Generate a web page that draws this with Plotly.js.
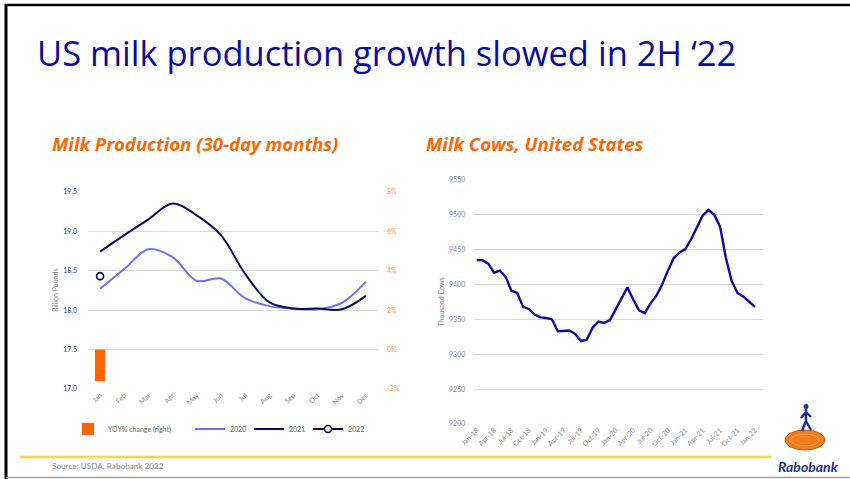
<!DOCTYPE html>
<html>
<head>
<meta charset="utf-8">
<script src="https://cdn.plot.ly/plotly-3.0.1.min.js"></script>
<style>
  html, body { margin: 0; padding: 0; background: #ffffff; }
  #chart { width: 850px; height: 479px; }
</style>
</head>
<body>
<div id="chart"></div>
<script>
// ---- Left chart: Milk Production (30-day months), billion pounds ----
const months = ["Jan","Feb","Mar","Apr","May","Jun","Jul","Aug","Sep","Oct","Nov","Dec"];
const milk2020 = [18.27, 18.52, 18.77, 18.67, 18.37, 18.40, 18.15, 18.05, 18.02, 18.01, 18.09, 18.36];
const milk2021 = [18.74, 18.95, 19.15, 19.35, 19.20, 18.95, 18.46, 18.10, 18.02, 18.02, 18.01, 18.18];
const milk2022Months = ["Jan"];
const milk2022 = [18.43];
const yoyMonths = ["Jan"];
const yoyChange = [-1.6];   // percent, right axis
const leftTicks = [17.0, 17.5, 18.0, 18.5, 19.0, 19.5];
const leftTickText = ["17.0", "17.5", "18.0", "18.5", "19.0", "19.5"];
const rightTicks = [-2, 0, 2, 4, 6, 8];
const rightTickText = ["-2%", "0%", "2%", "4%", "6%", "8%"];

// ---- Right chart: Milk Cows, United States, thousand head ----
const cowMonths = [
  "Jan-18","Feb-18","Mar-18","Apr-18","May-18","Jun-18","Jul-18","Aug-18","Sep-18","Oct-18","Nov-18","Dec-18",
  "Jan-19","Feb-19","Mar-19","Apr-19","May-19","Jun-19","Jul-19","Aug-19","Sep-19","Oct-19","Nov-19","Dec-19",
  "Jan-20","Feb-20","Mar-20","Apr-20","May-20","Jun-20","Jul-20","Aug-20","Sep-20","Oct-20","Nov-20","Dec-20",
  "Jan-21","Feb-21","Mar-21","Apr-21","May-21","Jun-21","Jul-21","Aug-21","Sep-21","Oct-21","Nov-21","Dec-21",
  "Jan-22"
];
const cows = [
  9435, 9435, 9430, 9417, 9420, 9411, 9391, 9388, 9368, 9365, 9357, 9353,
  9352, 9350, 9333, 9333, 9334, 9329, 9319, 9321, 9338, 9347, 9345, 9349,
  9365, 9380, 9396, 9379, 9363, 9359, 9373, 9384, 9400, 9420, 9438, 9446,
  9451, 9465, 9482, 9499, 9507, 9500, 9483, 9438, 9405, 9388, 9383, 9375,
  9368
];
const cowTickVals = ["Jan-18","Apr-18","Jul-18","Oct-18","Jan-19","Apr-19","Jul-19","Oct-19","Jan-20","Apr-20","Jul-20","Oct-20","Jan-21","Apr-21","Jul-21","Oct-21","Jan-22"];
const cowTickText = ["Jan-18","Apr-18","Jul-18","Oct-18","Jan-19","Apr-19","Jul-19","Oct-19","Jan-20","Apr-20","Jul-20","Oct-20","Jan-21","Apr-21","Jul-21","Oct-21","Jan-22"];
const cowYTicks = [9200, 9250, 9300, 9350, 9400, 9450, 9500, 9550];

// ---- page geometry helpers (pixel -> paper) ----
const W = 850, H = 479;
const px = v => v / W;
const py = v => 1 - v / H;

const tickFontL = {family: "Lato, sans-serif", size: 7, color: "#3a3a66"};
const tickFontR = {family: "Lato, sans-serif", size: 7, color: "#8a8a8a"};
const orange = "#FF6600";

const traces = [
  {
    type: "bar", name: "YOY% change (right)", x: yoyMonths, y: yoyChange,
    xaxis: "x", yaxis: "y2", marker: {color: orange}, width: 0.42,
    legend: "legend", hoverinfo: "skip"
  },
  {
    type: "scatter", mode: "lines", name: "2020", x: months, y: milk2020,
    xaxis: "x", yaxis: "y", line: {color: "#6f6ff7", width: 2, shape: "spline", smoothing: 1},
    legend: "legend2"
  },
  {
    type: "scatter", mode: "lines", name: "2021", x: months, y: milk2021,
    xaxis: "x", yaxis: "y", line: {color: "#0a0a5c", width: 2, shape: "spline", smoothing: 1},
    legend: "legend2"
  },
  {
    type: "scatter", mode: "lines+markers", name: "2022", x: milk2022Months, y: milk2022,
    xaxis: "x", yaxis: "y", line: {color: "#0a0a5c", width: 2},
    marker: {symbol: "circle", size: 7, color: "#ffffff", line: {color: "#0a0a5c", width: 1.6}},
    legend: "legend2"
  },
  {
    type: "scatter", mode: "lines", name: "Milk cows", x: cowMonths, y: cows,
    xaxis: "x3", yaxis: "y3", line: {color: "#0b0ba0", width: 2.4},
    showlegend: false
  }
];

const layout = {
  width: W, height: H,
  margin: {l: 0, r: 0, t: 0, b: 0},
  paper_bgcolor: "#ffffff", plot_bgcolor: "rgba(0,0,0,0)",
  font: {family: "Lato, sans-serif"},
  barmode: "overlay",
  xaxis: {
    domain: [px(88), px(378)], anchor: "y",
    type: "category", categoryorder: "array", categoryarray: months,
    range: [-0.5, 11.5], tickangle: -45, tickfont: tickFontR,
    showgrid: false, zeroline: false, showline: false, ticks: "", fixedrange: true
  },
  yaxis: {
    domain: [py(389), py(191.7)], anchor: "x",
    range: [17.0, 19.5], tickvals: leftTicks, ticktext: leftTickText,
    tickfont: tickFontL, gridcolor: "#d9d9d9", gridwidth: 1,
    zeroline: false, showline: false, ticklabelstandoff: 10,
    title: {text: "Billion Pounds", font: {size: 7, color: "#8a8a8a"}, standoff: 3}
  },
  yaxis2: {
    overlaying: "y", side: "right", anchor: "x",
    range: [-2, 8], tickvals: rightTicks, ticktext: rightTickText,
    tickfont: {family: "Lato, sans-serif", size: 7, color: "#f79646"},
    showgrid: false, zeroline: false, showline: false, ticklabelstandoff: 8
  },
  xaxis3: {
    domain: [px(474.3), px(763)], anchor: "y3",
    type: "category", categoryorder: "array", categoryarray: cowMonths,
    range: [-0.41, 49.4], tickvals: cowTickVals, ticktext: cowTickText,
    tickangle: -45, tickfont: tickFontR,
    showgrid: false, zeroline: false, showline: false, ticks: ""
  },
  yaxis3: {
    domain: [py(424), py(180)], anchor: "x3",
    range: [9200, 9550], tickvals: cowYTicks, tickformat: "d",
    tickfont: tickFontR, gridcolor: "#d9d9d9", gridwidth: 1,
    zeroline: false, showline: false, ticklabelstandoff: 8,
    title: {text: "Thousand Cows", font: {size: 7, color: "#8a8a8a"}, standoff: 3}
  },
  legend: {
    orientation: "h", x: px(68), y: py(429), xanchor: "left", yanchor: "middle",
    font: {size: 7, color: "#606060"}, bgcolor: "rgba(0,0,0,0)", itemwidth: 30
  },
  legend2: {
    orientation: "h", x: px(190), y: py(429), xanchor: "left", yanchor: "middle",
    font: {size: 7, color: "#606060"}, bgcolor: "rgba(0,0,0,0)", itemwidth: 30,
    entrywidth: 14
  },
  shapes: [
    // slide frame
    {type: "line", xref: "paper", yref: "paper", x0: px(5), x1: 1, y0: py(5), y1: py(5), line: {color: "#000000", width: 2.5}},
    {type: "line", xref: "paper", yref: "paper", x0: px(6), x1: px(6), y0: py(4), y1: 0, line: {color: "#000000", width: 3}},
    {type: "line", xref: "paper", yref: "paper", x0: px(6), x1: 1, y0: py(477.5), y1: py(477.5), line: {color: "#a0a0a0", width: 1.5}},
    // yellow footer rule
    {type: "line", xref: "paper", yref: "paper", x0: px(20), x1: px(771), y0: py(457), y1: py(457), line: {color: "#FFD04A", width: 2.5}},
    // logo: orange disc and figure
    {type: "circle", xref: "paper", yref: "paper", x0: px(785), x1: px(825), y0: py(450), y1: py(430),
     fillcolor: "#F07C1A", line: {color: "#C85A00", width: 1}},
    {type: "circle", xref: "paper", yref: "paper", x0: px(791), x1: px(819), y0: py(446), y1: py(434),
     fillcolor: "rgba(0,0,0,0)", line: {color: "#FFB060", width: 0.8}},
    {type: "circle", xref: "paper", yref: "paper", x0: px(803.5), x1: px(808.5), y0: py(409), y1: py(404),
     fillcolor: "#1a2d9a", line: {width: 0}},
    {type: "path", xref: "paper", yref: "paper",
     path: "M " + px(806) + "," + py(409) + " L " + px(806) + "," + py(421) +
           " L " + px(802) + "," + py(431) + " M " + px(806) + "," + py(421) +
           " L " + px(811) + "," + py(430) + " M " + px(806) + "," + py(412) +
           " L " + px(801) + "," + py(418) + " M " + px(806) + "," + py(412) +
           " L " + px(811) + "," + py(417),
     line: {color: "#1a2d9a", width: 2.4}}
  ],
  annotations: [
    {xref: "paper", yref: "paper", x: px(35), y: py(52), xanchor: "left", yanchor: "middle", showarrow: false,
     text: "US milk production growth slowed in 2H ‘22",
     font: {family: "Open Sans, sans-serif", size: 34.5, color: "#0c0c9c"}},
    {xref: "paper", yref: "paper", x: px(50), y: py(143), xanchor: "left", yanchor: "middle", showarrow: false,
     text: "<b><i>Milk Production (30-day months)</i></b>",
     font: {family: "Open Sans, sans-serif", size: 18.6, color: orange}},
    {xref: "paper", yref: "paper", x: px(424), y: py(143), xanchor: "left", yanchor: "middle", showarrow: false,
     text: "<b><i>Milk Cows, United States</i></b>",
     font: {family: "Open Sans, sans-serif", size: 18.6, color: orange}},
    {xref: "paper", yref: "paper", x: px(50), y: py(466), xanchor: "left", yanchor: "middle", showarrow: false,
     text: "Source: USDA, Rabobank 2022",
     font: {family: "Lato, sans-serif", size: 8.2, color: "#8a8a8a"}},
    {xref: "paper", yref: "paper", x: px(808), y: py(466), xanchor: "center", yanchor: "middle", showarrow: false,
     text: "<b><i>Rabobank</i></b>",
     font: {family: "Lato, sans-serif", size: 14, color: "#1a2d9a"}}
  ]
};

Plotly.newPlot("chart", traces, layout, {displayModeBar: false, staticPlot: true});
</script>
</body>
</html>
